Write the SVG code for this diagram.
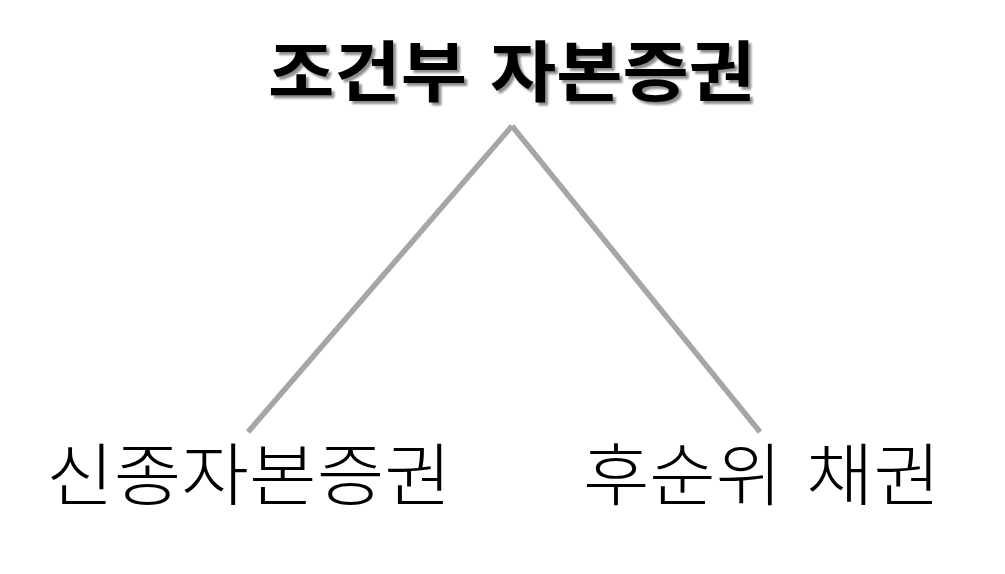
<svg xmlns="http://www.w3.org/2000/svg" width="1005" height="574" viewBox="0 0 1005 574">
<defs>
<filter id="shadow" x="-10%" y="-20%" width="120%" height="150%">
<feGaussianBlur in="SourceAlpha" stdDeviation="1.2"/>
<feOffset dx="2.5" dy="2.5" result="b"/>
<feComponentTransfer><feFuncA type="linear" slope="0.45"/></feComponentTransfer>
<feMerge><feMergeNode/><feMergeNode in="SourceGraphic"/></feMerge>
</filter>
</defs>
<style>
.title{font-family:"Noto Sans CJK KR","Noto Sans",sans-serif;font-weight:700;font-size:66px;fill:#000}
.label{font-family:"Noto Sans CJK KR","Noto Sans",sans-serif;font-weight:300;font-size:68px;fill:#000}
.conn{stroke:#a6a6a6;stroke-width:5.5;fill:none}
</style>
<rect width="1005" height="574" fill="#fff"/>
<g id="connectors">
<line class="conn" x1="512" y1="126" x2="248" y2="432"/>
<line class="conn" x1="512" y1="126" x2="760" y2="432"/>
</g>
<g id="node-root" filter="url(#shadow)">
<text class="title" x="268" y="96" textLength="199" lengthAdjust="spacingAndGlyphs">조건부</text>
<text class="title" x="490" y="96" textLength="265" lengthAdjust="spacingAndGlyphs">자본증권</text>
</g>
<g id="node-left">
<text class="label" x="46" y="500" textLength="406" lengthAdjust="spacingAndGlyphs">신종자본증권</text>
</g>
<g id="node-right">
<text class="label" x="583" y="500" textLength="199" lengthAdjust="spacingAndGlyphs">후순위</text>
<text class="label" x="806" y="500" textLength="135" lengthAdjust="spacingAndGlyphs">채권</text>
</g>
</svg>
